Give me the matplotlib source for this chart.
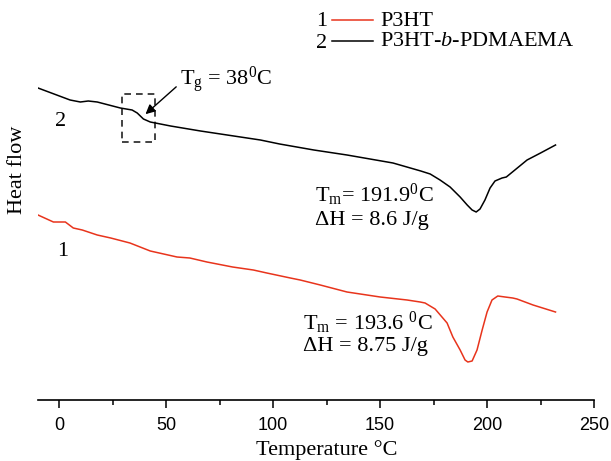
import matplotlib
matplotlib.use("Agg")
import matplotlib.pyplot as plt
from matplotlib.patches import Rectangle
from matplotlib.lines import Line2D
from matplotlib.ticker import MultipleLocator

plt.rcParams['font.family'] = 'Liberation Serif'
plt.rcParams['mathtext.fontset'] = 'custom'
plt.rcParams['mathtext.rm'] = 'Liberation Serif'
plt.rcParams['mathtext.it'] = 'Liberation Serif:italic'
plt.rcParams['mathtext.default'] = 'regular'

# DSC traces, heat flow in arbitrary units
temp_copoly = [-10, 5, 9.8, 13.5, 17.7, 28.5, 34, 36.4, 39.3, 42.5, 52, 66, 94, 103,
               119, 134.5, 156, 169, 173.4, 178, 182.7, 187.4, 190.7, 193, 194.9, 196.7,
               199, 201.4, 203.7, 207, 209, 213, 218.7, 225, 232]
flow_copoly = [3.12, 3.00, 2.98, 2.99, 2.98, 2.92, 2.90, 2.87, 2.81, 2.78, 2.74, 2.69,
               2.60, 2.56, 2.50, 2.45, 2.37, 2.29, 2.26, 2.20, 2.13, 2.03, 1.95, 1.90,
               1.88, 1.91, 2.00, 2.12, 2.19, 2.22, 2.23, 2.30, 2.40, 2.47, 2.55]

temp_p3ht = [-10, -2.8, 2.8, 6.5, 10.7, 17.7, 24, 33, 42.5, 55, 61, 69, 81, 90.7, 97,
             108, 112.6, 122, 134.5, 150, 162.6, 168.7, 171, 175.7, 181.3, 184, 187.4,
             189.7, 191, 193, 195.3, 197.7, 200, 202.3, 205, 208.4, 212, 214, 221.5, 232]
flow_p3ht = [1.85, 1.78, 1.78, 1.72, 1.70, 1.65, 1.62, 1.57, 1.49, 1.43, 1.42, 1.38,
             1.33, 1.30, 1.27, 1.22, 1.20, 1.15, 1.08, 1.03, 1.00, 0.98, 0.97, 0.91,
             0.77, 0.63, 0.50, 0.40, 0.38, 0.39, 0.50, 0.70, 0.88, 1.00, 1.04, 1.03,
             1.02, 1.01, 0.95, 0.88]

xticks = [0, 50, 100, 150, 200, 250]

fig = plt.figure(figsize=(6.11, 4.61), dpi=100)
ax = fig.add_axes([38/611, 61/461, 556/611, 390/461])

red = '#e8341c'
ax.plot(temp_p3ht, flow_p3ht, color=red, lw=1.1, solid_joinstyle='round')
ax.plot(temp_copoly, flow_copoly, color='black', lw=1.1, solid_joinstyle='round')

ax.set_xlim(-10, 250)
ax.set_ylim(0, 3.9)
ax.set_xticks(xticks)
ax.xaxis.set_minor_locator(MultipleLocator(25))
ax.set_yticks([])
for s in ['top', 'right', 'left']:
    ax.spines[s].set_visible(False)
ax.spines['bottom'].set_linewidth(1.2)
ax.tick_params(axis='x', which='major', length=6, width=1.1, pad=6.5, labelsize=13)
ax.tick_params(axis='x', which='minor', length=3.6, width=1.1)
for lab in ax.get_xticklabels():
    lab.set_family('Liberation Sans')

fs = 16
ax.set_xlabel('Temperature °C', fontsize=fs)
ax.xaxis.set_label_coords(0.52, -0.102)
ax.set_ylabel('Heat flow', fontsize=fs)
ax.yaxis.set_label_coords(-0.02, 0.59)

# curve numbers
ax.text(0.5, 2.78, '2', fontsize=fs, ha='center', va='center')
ax.text(1.4, 1.48, '1', fontsize=fs, ha='center', va='center')

# Tg box and arrow
ax.add_patch(Rectangle((29.4, 2.58), 15.5, 0.48, fill=False, ls=(0, (4, 3)), lw=1.2, ec='#222222'))
ax.annotate('', xy=(39.3, 2.84), xytext=(55.6, 3.15),
            arrowprops=dict(arrowstyle='-|>', color='black', lw=1, mutation_scale=14))
ax.text(56.5, 3.20, 'T$_g$ = 38$^0$C', fontsize=fs, ha='left', va='center')

# melting annotations
ax.text(119.6, 2.05, 'T$_m$= 191.9$^0$C', fontsize=fs, ha='left', va='center')
ax.text(119.6, 1.80, 'ΔH = 8.6 J/g', fontsize=fs, ha='left', va='center')
ax.text(114, 0.77, 'T$_m$ = 193.6 $^0$C', fontsize=fs, ha='left', va='center')
ax.text(114, 0.53, 'ΔH = 8.75 J/g', fontsize=fs, ha='left', va='center')

# legend drawn by hand: number, line sample, name
W, H = 611, 461
for num, name, col, yp in [('1', 'P3HT', red, 20),
                           ('2', 'P3HT-$\\mathit{b}$-PDMAEMA', 'black', 41)]:
    fig.text(322/W, 1 - (yp + 2)/H, num, fontsize=fs, ha='center', va='center')
    fig.add_artist(Line2D([332/W, 373/W], [1 - yp/H, 1 - yp/H], color=col, lw=1.1))
    fig.text(380/W, 1 - (yp + 1)/H, name, fontsize=fs, ha='left', va='center')

fig.savefig('out.png', dpi=100)
